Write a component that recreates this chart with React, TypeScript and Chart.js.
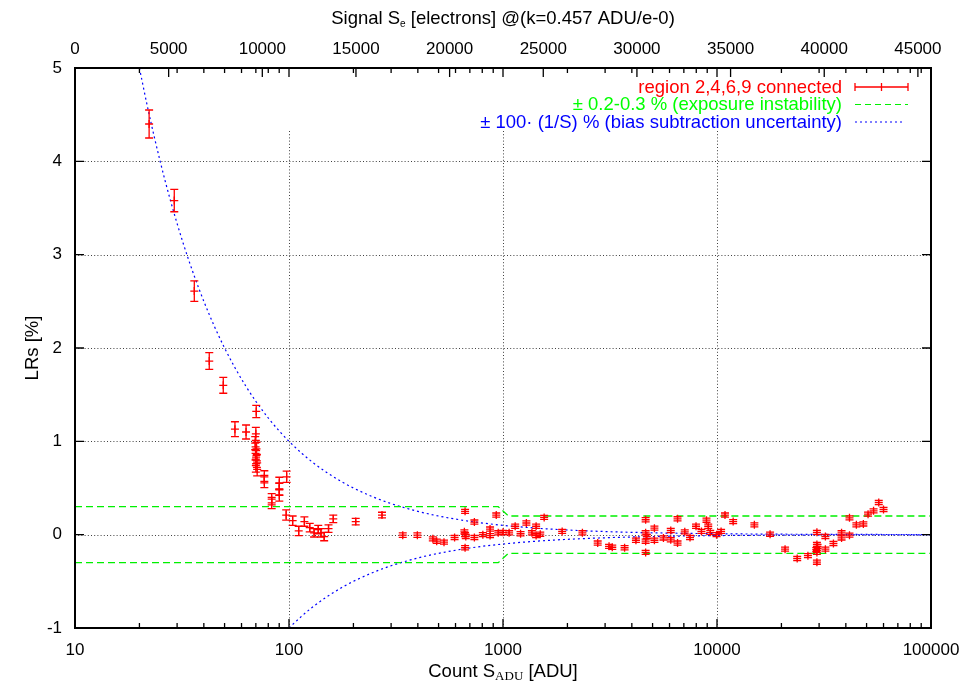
import React, { useEffect, useRef } from "react";
import { Chart, registerables } from "chart.js";
Chart.register(...registerables);

const FONT = '"Liberation Sans", Arial, Helvetica, sans-serif';
const SERIF = '"Liberation Serif", "Times New Roman", serif';

// Tick labels
const xTickValues = [10, 100, 1000, 10000, 100000];
const x2TickValues = [0, 5000, 10000, 15000, 20000, 25000, 30000, 35000, 40000, 45000];
const yTickValues = [-1, 0, 1, 2, 3, 4, 5];
const gridX = [100, 1000, 10000];
const gridY = [0, 1, 2, 3, 4];

// Measured data: count S_ADU [ADU], LRs [%], error [%]
const countADU = [
  22.2, 29.1, 36.1, 42.4, 49.3, 55.9, 63.0, 70.3, 70.0, 69.5, 70.5, 69.8, 70.2, 70.8, 70.0, 71.0,
  76.7, 76.7, 83.0, 83.0, 90.1, 90.1, 90.1, 97.5, 97.0, 104, 111, 118, 125, 131, 137, 141, 146, 153, 161,
  205, 272, 340, 398, 470, 490, 530, 594, 665, 660, 665, 670, 665, 735, 735, 805, 870, 870, 930, 950,
  1000, 1068, 1140, 1208, 1286, 1365, 1428, 1428, 1493, 1557, 1890, 2350, 2770, 3130, 3240, 3700, 4180,
  4640, 4640, 4700, 4640, 4640, 5100, 5100, 5620, 6080, 6080, 6540, 6540, 7070, 7480, 7980, 8460, 8930,
  9100, 9300, 9950, 10450, 10900, 11900, 14950, 17700, 20800, 23700, 26600, 29300, 29300, 29500, 29100,
  29300, 29300, 32100, 32100, 35000, 38200, 38200, 41600, 41600, 44800, 48300, 50800, 53900, 57000, 60000,
];
const lrsPercent = [
  4.40, 3.58, 2.61, 1.86, 1.60, 1.13, 1.10, 1.32, 1.08, 0.98, 0.92, 0.87, 0.83, 0.79, 0.74, 0.70,
  0.62, 0.57, 0.38, 0.34, 0.55, 0.49, 0.42, 0.62, 0.21, 0.15, 0.04, 0.14, 0.075, 0.02, 0.055, 0.02, -0.02, 0.065, 0.17,
  0.14, 0.21, -0.005, -0.005, -0.045, -0.07, -0.08, -0.03, 0.25, 0.03, 0.0, -0.02, -0.14, 0.135, -0.03, 0.0, 0.06, -0.01, 0.21, 0.02,
  0.025, 0.02, 0.09, 0.01, 0.125, 0.02, 0.09, -0.01, 0.005, 0.185, 0.035, 0.02, -0.09, -0.125, -0.135, -0.14, -0.06,
  0.16, 0.02, -0.02, -0.07, -0.19, 0.07, -0.06, -0.035, 0.045, -0.055, 0.17, -0.09, 0.03, -0.03, 0.09, 0.035, 0.155,
  0.09, 0.025, 0.0, 0.035, 0.21, 0.14, 0.105, 0.005, -0.155, -0.255, -0.225, 0.025, -0.105, -0.125, -0.16,
  -0.19, -0.295, -0.02, -0.155, -0.095, 0.02, -0.035, 0.18, -0.005, 0.105, 0.115, 0.22, 0.255, 0.345, 0.27,
];
const lrsError = [
  0.15, 0.12, 0.11, 0.09, 0.085, 0.08, 0.075, 0.065, 0.07, 0.07, 0.07, 0.07, 0.07, 0.07, 0.07, 0.07,
  0.065, 0.065, 0.06, 0.06, 0.065, 0.065, 0.06, 0.06, 0.055, 0.05, 0.05, 0.05, 0.045, 0.045, 0.045, 0.045, 0.045, 0.04, 0.04,
  0.035, 0.03, 0.025, 0.025, 0.022, 0.022, 0.022, 0.022, 0.022, 0.022, 0.022, 0.022, 0.022, 0.022, 0.022, 0.022, 0.022, 0.022, 0.022, 0.022,
  0.022, 0.022, 0.022, 0.022, 0.022, 0.022, 0.022, 0.022, 0.022, 0.022, 0.022, 0.022, 0.022, 0.022, 0.022, 0.022, 0.022,
  0.022, 0.022, 0.022, 0.022, 0.022, 0.022, 0.022, 0.022, 0.022, 0.022, 0.022, 0.022, 0.022, 0.022, 0.022, 0.022, 0.022,
  0.022, 0.022, 0.022, 0.022, 0.022, 0.022, 0.022, 0.022, 0.022, 0.022, 0.022, 0.022, 0.022, 0.022, 0.022,
  0.022, 0.022, 0.022, 0.022, 0.022, 0.022, 0.022, 0.022, 0.022, 0.022, 0.022, 0.022, 0.022, 0.022, 0.022,
];

// Exposure instability band (± 0.3 % below ~1000 ADU, ± 0.2 % above)
const exposureX = [10, 950, 1060, 100000];
const exposureUpper = [0.3, 0.3, 0.2, 0.2];
const exposureLower = [-0.3, -0.3, -0.2, -0.2];

// Bias subtraction curve ± 100·(1/S) %
const biasUpperX = [20, 22, 25, 28, 32, 36, 40, 45, 50, 56, 63, 70, 80, 90, 100, 115, 130, 150, 175, 200, 250, 300, 400, 500, 700, 1000, 1500, 2000, 3000, 5000, 10000, 20000, 100000];
const biasUpperY = [5, 4.545, 4, 3.571, 3.125, 2.778, 2.5, 2.222, 2, 1.786, 1.587, 1.429, 1.25, 1.111, 1, 0.870, 0.769, 0.667, 0.571, 0.5, 0.4, 0.333, 0.25, 0.2, 0.143, 0.1, 0.0667, 0.05, 0.0333, 0.02, 0.01, 0.005, 0.001];
const biasLowerX = [100, 115, 130, 150, 175, 200, 250, 300, 400, 500, 700, 1000, 1500, 2000, 3000, 5000, 10000, 20000, 100000];
const biasLowerY = [-1, -0.870, -0.769, -0.667, -0.571, -0.5, -0.4, -0.333, -0.25, -0.2, -0.143, -0.1, -0.0667, -0.05, -0.0333, -0.02, -0.01, -0.005, -0.001];

const RED = "#ff0000";
const GREEN = "#00f000";
const BLUE = "#0000ff";

const LEFT = 75, RIGHT_PAD = 31, TOP_H = 68, BOTTOM_H = 56;
const TEXT_SIZE = 18.5;

function drawRich(ctx: CanvasRenderingContext2D, parts: { t: string; sub?: boolean; serif?: boolean; size?: number }[], cx: number, y: number, size: number, subDrop: number) {
  const fonts = parts.map((p) => (p.sub ? `${p.size || size * 0.62}px ${p.serif ? SERIF : FONT}` : `${size}px ${FONT}`));
  let total = 0;
  const widths = parts.map((p, i) => {
    ctx.font = fonts[i];
    const w = ctx.measureText(p.t).width;
    total += w;
    return w;
  });
  let x = cx - total / 2;
  ctx.textAlign = "left";
  ctx.textBaseline = "alphabetic";
  parts.forEach((p, i) => {
    ctx.font = fonts[i];
    ctx.fillText(p.t, x, p.sub ? y + subDrop : y);
    x += widths[i];
  });
}

const gnuplotPlugin = {
  id: "gnuplotLook",
  beforeDatasetsDraw(chart: any) {
    const { ctx, chartArea: a, scales } = chart;
    const xs = scales.x, ys = scales.y;
    ctx.save();
    ctx.strokeStyle = "rgba(0,0,0,0.75)";
    ctx.lineWidth = 1;
    ctx.setLineDash([1, 2.2]);
    gridY.forEach((v) => {
      const y = Math.round(ys.getPixelForValue(v)) + 0.5;
      ctx.beginPath();
      ctx.moveTo(a.left, y);
      ctx.lineTo(a.right, y);
      ctx.stroke();
    });
    const topY = ys.getPixelForValue(4.33);
    gridX.forEach((v) => {
      const x = Math.round(xs.getPixelForValue(v)) + 0.5;
      ctx.beginPath();
      ctx.moveTo(x, a.bottom);
      ctx.lineTo(x, topY);
      ctx.stroke();
    });
    ctx.restore();
  },
  afterDatasetsDraw(chart: any) {
    const { ctx, chartArea: a, scales } = chart;
    const xs = scales.x, ys = scales.y, x2 = scales.x2;
    ctx.save();
    // error bars
    const meta = chart.getDatasetMeta(0);
    ctx.strokeStyle = RED;
    ctx.lineWidth = 1.3;
    ctx.setLineDash([]);
    meta.data.forEach((el: any, i: number) => {
      const x = el.x;
      const y1 = ys.getPixelForValue(lrsPercent[i] + lrsError[i]);
      const y2 = ys.getPixelForValue(lrsPercent[i] - lrsError[i]);
      ctx.beginPath();
      ctx.moveTo(x, y1);
      ctx.lineTo(x, y2);
      ctx.moveTo(x - 4, y1);
      ctx.lineTo(x + 4, y1);
      ctx.moveTo(x - 4, y2);
      ctx.lineTo(x + 4, y2);
      ctx.stroke();
    });
    // border
    ctx.strokeStyle = "#000";
    ctx.lineWidth = 2;
    ctx.strokeRect(a.left, a.top, a.right - a.left, a.bottom - a.top);
    // ticks
    ctx.lineWidth = 1.3;
    const major = 9, minor = 5;
    ctx.beginPath();
    for (let d = 10; d < 100000; d *= 10) {
      for (let m = 1; m <= 9; m++) {
        const v = d * m;
        const x = xs.getPixelForValue(v);
        const L = m === 1 ? major : minor;
        ctx.moveTo(x, a.bottom);
        ctx.lineTo(x, a.bottom - L);
        ctx.moveTo(x, a.top);
        ctx.lineTo(x, a.top + L);
      }
    }
    x2TickValues.forEach((v) => {
      const x = x2.getPixelForValue(v);
      ctx.moveTo(x, a.top);
      ctx.lineTo(x, a.top + major);
    });
    yTickValues.forEach((v) => {
      const y = ys.getPixelForValue(v);
      ctx.moveTo(a.left, y);
      ctx.lineTo(a.left + major, y);
      ctx.moveTo(a.right, y);
      ctx.lineTo(a.right - major, y);
    });
    ctx.stroke();

    // legend
    const ds = chart.data.datasets;
    const textRight = 842, sx1 = 855, sx2 = 908;
    const rows = [
      { label: ds[0].label, color: RED, kind: "err", y: 87 },
      { label: ds[1].label, color: "#00ff00", kind: "dash", y: 104.5 },
      { label: ds[3].label, color: BLUE, kind: "dot", y: 122 },
    ];
    ctx.font = `${TEXT_SIZE}px ${FONT}`;
    ctx.textAlign = "right";
    ctx.textBaseline = "middle";
    rows.forEach((r) => {
      ctx.fillStyle = r.color;
      ctx.fillText(r.label, textRight, r.y + 0.5);
      ctx.beginPath();
      ctx.strokeStyle = r.kind === "dash" ? GREEN : r.color;
      if (r.kind === "err") {
        ctx.setLineDash([]);
        ctx.lineWidth = 1.3;
        ctx.moveTo(sx1, r.y);
        ctx.lineTo(sx2, r.y);
        ctx.moveTo(sx1, r.y - 4);
        ctx.lineTo(sx1, r.y + 4);
        ctx.moveTo(sx2, r.y - 4);
        ctx.lineTo(sx2, r.y + 4);
        const mx = (sx1 + sx2) / 2;
        ctx.moveTo(mx, r.y - 4);
        ctx.lineTo(mx, r.y + 4);
      } else if (r.kind === "dash") {
        ctx.setLineDash([6, 4]);
        ctx.lineWidth = 1.2;
        ctx.moveTo(sx1, r.y);
        ctx.lineTo(sx2, r.y);
      } else {
        ctx.setLineDash([2, 3]);
        ctx.lineWidth = 1.2;
        ctx.moveTo(sx1, r.y);
        ctx.lineTo(sx2 - 3, r.y);
      }
      ctx.stroke();
    });
    ctx.setLineDash([]);

    // axis titles
    ctx.fillStyle = "#000";
    const cx = (a.left + a.right) / 2;
    drawRich(ctx, [{ t: "Signal S" }, { t: "e", sub: true, size: 10 }, { t: " [electrons] @(k=0.457 ADU/e-0)" }], cx, 24, TEXT_SIZE, 3);
    drawRich(ctx, [{ t: "Count S" }, { t: "ADU", sub: true, serif: true, size: 13 }, { t: " [ADU]" }], cx, 677, TEXT_SIZE, 3);
    ctx.save();
    ctx.translate(33, (a.top + a.bottom) / 2);
    ctx.rotate(-Math.PI / 2);
    ctx.font = `${TEXT_SIZE}px ${FONT}`;
    ctx.textAlign = "center";
    ctx.textBaseline = "middle";
    ctx.fillText("LRs [%]", 0, 0);
    ctx.restore();
    ctx.restore();
  },
};

export default function App() {
  const ref = useRef<HTMLCanvasElement | null>(null);
  useEffect(() => {
    document.body.style.margin = "0";
    const canvas = ref.current;
    if (!canvas) return;
    const tickFont = { family: FONT, size: 17 };
    const chart = new Chart(canvas, {
      type: "scatter",
      data: {
        datasets: [
          {
            label: "region 2,4,6,9 connected",
            data: countADU.map((x, i) => ({ x, y: lrsPercent[i] })),
            pointStyle: "cross",
            pointRadius: 4,
            pointBorderColor: RED,
            pointBorderWidth: 1.3,
            borderColor: RED,
            backgroundColor: RED,
            showLine: false,
          },
          {
            label: "± 0.2-0.3 % (exposure instability)",
            data: exposureX.map((x, i) => ({ x, y: exposureUpper[i] })),
            showLine: true,
            borderColor: GREEN,
            borderWidth: 1.3,
            borderDash: [7, 4],
            pointRadius: 0,
            tension: 0,
          },
          {
            label: "± 0.2-0.3 % (exposure instability) lower",
            data: exposureX.map((x, i) => ({ x, y: exposureLower[i] })),
            showLine: true,
            borderColor: GREEN,
            borderWidth: 1.3,
            borderDash: [7, 4],
            pointRadius: 0,
            tension: 0,
          },
          {
            label: "± 100· (1/S) % (bias subtraction uncertainty)",
            data: biasUpperX.map((x, i) => ({ x, y: biasUpperY[i] })),
            showLine: true,
            borderColor: BLUE,
            borderWidth: 1.2,
            borderDash: [2, 3],
            pointRadius: 0,
            cubicInterpolationMode: "monotone",
          },
          {
            label: "± 100· (1/S) % (bias subtraction uncertainty) lower",
            data: biasLowerX.map((x, i) => ({ x, y: biasLowerY[i] })),
            showLine: true,
            borderColor: BLUE,
            borderWidth: 1.2,
            borderDash: [2, 3],
            pointRadius: 0,
            cubicInterpolationMode: "monotone",
          },
        ],
      },
      options: {
        animation: false,
        responsive: false,
        devicePixelRatio: 1,
        layout: { padding: { left: 0, right: RIGHT_PAD, top: 0, bottom: 0 } },
        plugins: { legend: { display: false }, tooltip: { enabled: false }, title: { display: false } },
        scales: {
          x: {
            type: "logarithmic",
            position: "bottom",
            min: 10,
            max: 100000,
            grid: { display: false, drawTicks: false },
            border: { display: false },
            afterBuildTicks: (s: any) => {
              s.ticks = xTickValues.map((v) => ({ value: v, major: true }));
            },
            afterFit: (s: any) => {
              s.height = BOTTOM_H;
              s.paddingLeft = 0;
              s.paddingRight = 0;
            },
            ticks: {
              autoSkip: false,
              maxRotation: 0,
              padding: 12,
              color: "#000",
              font: tickFont,
              callback: (v: any) => String(v),
            },
          },
          x2: {
            type: "linear",
            position: "top",
            min: 0,
            max: 45700,
            grid: { display: false, drawTicks: false },
            border: { display: false },
            afterBuildTicks: (s: any) => {
              s.ticks = x2TickValues.map((v) => ({ value: v }));
            },
            afterFit: (s: any) => {
              s.height = TOP_H;
              s.paddingLeft = 0;
              s.paddingRight = 0;
            },
            ticks: {
              autoSkip: false,
              maxRotation: 0,
              padding: 8,
              color: "#000",
              font: tickFont,
              callback: (v: any) => String(v),
            },
          },
          y: {
            type: "linear",
            position: "left",
            min: -1,
            max: 5,
            grid: { display: false, drawTicks: false },
            border: { display: false },
            afterBuildTicks: (s: any) => {
              s.ticks = yTickValues.map((v) => ({ value: v }));
            },
            afterFit: (s: any) => {
              s.width = LEFT;
              s.paddingTop = 0;
              s.paddingBottom = 0;
            },
            ticks: {
              padding: 13,
              color: "#000",
              font: tickFont,
              callback: (v: any) => String(v),
            },
          },
        },
      },
      plugins: [gnuplotPlugin],
    } as any);
    return () => chart.destroy();
  }, []);
  return (
    <div style={{ width: 962, height: 684, background: "#fff" }}>
      <canvas ref={ref} width={962} height={684} style={{ display: "block" }} />
    </div>
  );
}
